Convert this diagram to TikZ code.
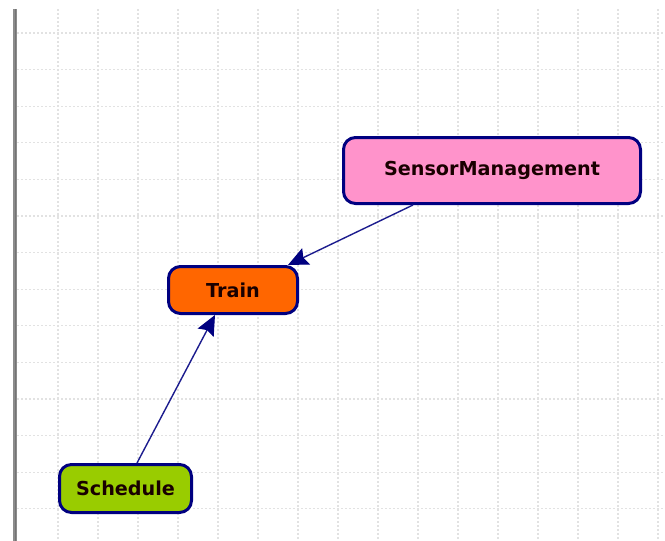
\documentclass[tikz,border=0pt]{standalone}
\usepackage{fontspec}
\newfontfamily\lblfont{DejaVu Sans}
\usetikzlibrary{arrows.meta,calc}
\definecolor{edgenavy}{HTML}{000080}
\definecolor{linknavy}{HTML}{1C1C8E}
\definecolor{gridgray}{HTML}{E2E2E2}
\definecolor{barsgray}{HTML}{8C8C8C}
\definecolor{pinkfill}{HTML}{FF93CB}
\definecolor{orangefill}{HTML}{FF6600}
\definecolor{limefill}{HTML}{99CC00}
\tikzset{
  classbox/.style={draw=edgenavy, line width=3pt, rounded corners=12pt,
    inner sep=0pt, font=\lblfont\bfseries\fontsize{19.2}{22}\selectfont,
    text=black!90!red},
  gridline/.style={draw=gridgray, line width=1.3pt, dash pattern=on 2pt off 2pt},
  dependency/.style={draw=linknavy, line width=1.4pt,
    -{Stealth[length=20pt,width=18pt,inset=3pt,line width=1pt,color=edgenavy]}},
}
\begin{document}
\begin{tikzpicture}[x=1pt,y=-1pt]
  \useasboundingbox (0,0) rectangle (665,541);
  \fill[white] (0,0) rectangle (665,541);
  % background grid
  \foreach \gx in {58,98,...,658}
    \draw[gridline] (\gx,9) -- (\gx,541);
  \foreach \k in {0,...,13}
    \draw[gridline] (17,{33+36.6*\k}) -- (665,{33+36.6*\k});
  % left ruler edge
  \fill[barsgray] (12.5,9) rectangle (17,541);
  \fill[black!55] (14.5,9) rectangle (16,541);
  % classes
  \node[classbox, fill=pinkfill, minimum width=297pt, minimum height=66pt]
    (sm) at (492,170.5) {SensorManagement};
  \node[classbox, fill=orangefill, minimum width=129pt, minimum height=47pt]
    (tr) at (233,290) {Train};
  \node[classbox, fill=limefill, minimum width=132pt, minimum height=48pt]
    (sc) at (125.5,488.5) {Schedule};
  % dependencies
  \draw[dependency] ([xshift=-79pt]sm.south) -- ([xshift=55pt]tr.north);
  \draw[dependency] ([xshift=11.5pt]sc.north) -- ([xshift=-18pt]tr.south);
\end{tikzpicture}
\end{document}
